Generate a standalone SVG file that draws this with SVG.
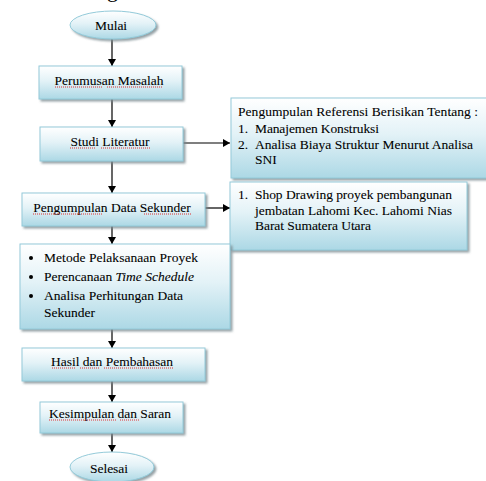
<svg xmlns="http://www.w3.org/2000/svg" width="486" height="481" viewBox="0 0 486 481">
<defs>
<linearGradient id="g" x1="0" y1="0" x2="0" y2="1">
<stop offset="0" stop-color="#ffffff"/>
<stop offset="0.45" stop-color="#e3f2f7"/>
<stop offset="1" stop-color="#acd8e5"/>
</linearGradient>
<filter id="sh" x="-10%" y="-10%" width="130%" height="140%">
<feDropShadow dx="2" dy="2" stdDeviation="1" flood-color="#7a8a90" flood-opacity="0.8"/>
</filter>
<marker id="ah" markerWidth="8" markerHeight="8" refX="7" refY="4" orient="auto" markerUnits="userSpaceOnUse">
<path d="M0,0 L7,4 L0,8 Z" fill="#000"/>
</marker>
</defs>
<style>
.box{fill:url(#g);stroke:#93cad9;stroke-width:1;filter:url(#sh)}
.t{font-family:"Liberation Serif","Times New Roman",serif;font-size:13.5px;fill:#000;stroke:#000;stroke-width:0.08}
.c{text-anchor:middle}
.ln{stroke:#000;stroke-width:1.2;fill:none;marker-end:url(#ah)}
.sq{stroke:#e03030;stroke-width:1;stroke-dasharray:1 1;fill:none}
</style>
<rect width="486" height="481" fill="#fff"/>
<text class="t" x="107" y="-3" style="font-size:22px">g</text>

<g id="connectors">
<line class="ln" x1="112" y1="39" x2="112" y2="66"/>
<line class="ln" x1="112" y1="99" x2="112" y2="127"/>
<line class="ln" x1="112" y1="161" x2="112" y2="193"/>
<line class="ln" x1="112" y1="226" x2="112" y2="244"/>
<line class="ln" x1="112" y1="329" x2="112" y2="348"/>
<line class="ln" x1="112" y1="381" x2="112" y2="402"/>
<line class="ln" x1="112" y1="433" x2="112" y2="452"/>
<line class="ln" x1="183" y1="143" x2="230" y2="143"/>
<line class="ln" x1="205" y1="208" x2="230" y2="208"/>
</g>

<g id="mulai">
<ellipse class="box" cx="113" cy="25" rx="43" ry="14"/>
<text class="t c" x="111" y="30">Mulai</text>
</g>

<g id="perumusan">
<rect class="box" x="39" y="66" width="143" height="33"/>
<text class="t c" x="109" y="85">Perumusan Masalah</text>
<path class="sq" d="M55,87 H102 M107,87 H163"/>
</g>

<g id="studi">
<rect class="box" x="40" y="127" width="143" height="34"/>
<text class="t c" x="110" y="146">Studi Literatur</text>
<path class="sq" d="M70,148 H96 M101,148 H150"/>
</g>

<g id="pengumpulan">
<rect class="box" x="22" y="193" width="183" height="33"/>
<text class="t c" x="112" y="212">Pengumpulan Data Sekunder</text>
<path class="sq" d="M33,214 H103 M144,214 H191"/>
</g>

<g id="referensi">
<rect class="box" x="231" y="98" width="262" height="80"/>
<text class="t" x="238" y="116" textLength="240">Pengumpulan Referensi Berisikan Tentang :</text>
<text class="t" x="238" y="133">1.</text>
<text class="t" x="255" y="133" textLength="124">Manajemen Konstruksi</text>
<text class="t" x="238" y="149">2.</text>
<text class="t" x="255" y="149" textLength="218">Analisa Biaya Struktur Menurut Analisa</text>
<text class="t" x="255" y="164">SNI</text>
</g>

<g id="shopdrawing">
<rect class="box" x="230" y="182" width="237" height="68"/>
<text class="t" x="238" y="199">1.</text>
<text class="t" x="255" y="199" textLength="197">Shop Drawing proyek pembangunan</text>
<text class="t" x="255" y="215" textLength="197">jembatan Lahomi Kec. Lahomi Nias</text>
<text class="t" x="255" y="230" textLength="116">Barat Sumatera Utara</text>
</g>

<g id="metode">
<rect class="box" x="20" y="244" width="210" height="85"/>
<circle cx="31" cy="258" r="2"/>
<circle cx="31" cy="277" r="2"/>
<circle cx="31" cy="296" r="2"/>
<text class="t" x="44" y="262" textLength="154">Metode Pelaksanaan Proyek</text>
<text class="t" x="44" y="281">Perencanaan <tspan font-style="italic">Time Schedule</tspan></text>
<text class="t" x="44" y="300" textLength="139">Analisa Perhitungan Data</text>
<text class="t" x="44" y="317">Sekunder</text>
</g>

<g id="hasil">
<rect class="box" x="22" y="348" width="183" height="33"/>
<text class="t c" x="112" y="366">Hasil dan Pembahasan</text>
<path class="sq" d="M52,368 H76 M80,368 H100 M104,368 H173"/>
</g>

<g id="kesimpulan">
<rect class="box" x="40" y="402" width="143" height="31"/>
<text class="t c" x="110" y="418">Kesimpulan dan Saran</text>
<path class="sq" d="M49,420 H116 M120,420 H139"/>
</g>

<g id="selesai">
<ellipse class="box" cx="112" cy="467" rx="42" ry="15"/>
<text class="t c" x="109" y="473">Selesai</text>
</g>
</svg>
